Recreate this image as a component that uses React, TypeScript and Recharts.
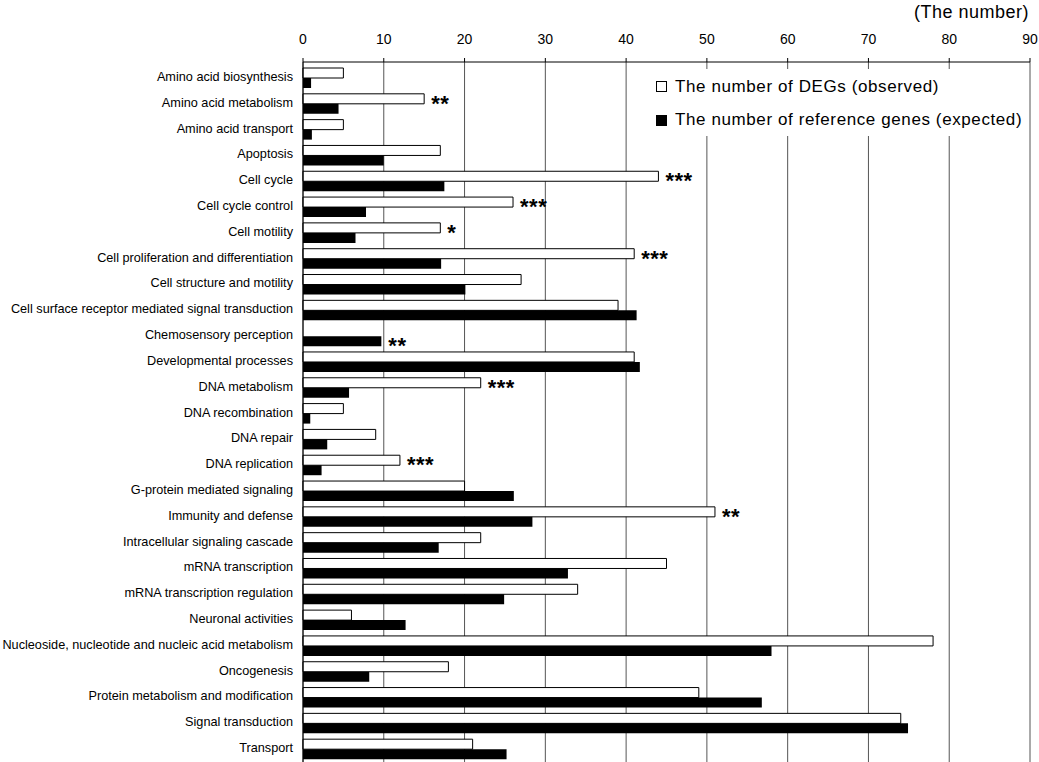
import React from 'react';
import {
  BarChart, Bar, XAxis, YAxis, CartesianGrid, LabelList,
} from 'recharts';

const categories = [
  'Amino acid biosynthesis',
  'Amino acid metabolism',
  'Amino acid transport',
  'Apoptosis',
  'Cell cycle',
  'Cell cycle control',
  'Cell motility',
  'Cell proliferation and differentiation',
  'Cell structure and motility',
  'Cell surface receptor mediated signal transduction',
  'Chemosensory perception',
  'Developmental processes',
  'DNA metabolism',
  'DNA recombination',
  'DNA repair',
  'DNA replication',
  'G-protein mediated signaling',
  'Immunity and defense',
  'Intracellular signaling cascade',
  'mRNA transcription',
  'mRNA transcription regulation',
  'Neuronal activities',
  'Nucleoside, nucleotide and nucleic acid metabolism',
  'Oncogenesis',
  'Protein metabolism and modification',
  'Signal transduction',
  'Transport',
];

// observed DEGs
const observed = [5, 15, 5, 17, 44, 26, 17, 41, 27, 39, 0, 41, 22, 5, 9, 12, 20, 51, 22, 45, 34, 6, 78, 18, 49, 74, 21];
// expected reference genes
const expected = [1.0, 4.4, 1.1, 10.0, 17.5, 7.8, 6.5, 17.1, 20.1, 41.3, 9.7, 41.7, 5.7, 0.9, 3.0, 2.3, 26.1, 28.4, 16.8, 32.8, 24.9, 12.7, 58, 8.2, 56.8, 74.9, 25.2];
const significance = ['', '**', '', '', '***', '***', '*', '***', '', '', '**', '', '***', '', '', '***', '', '**', '', '', '', '', '', '', '', '', ''];

const xTicks = [0, 10, 20, 30, 40, 50, 60, 70, 80, 90];
const legendLabels = ['The number of DEGs (observed)', 'The number of reference genes (expected)'];
const unitLabel = '(The number)';

const data = categories.map((name, i) => ({
  name,
  observed: observed[i],
  expected: expected[i],
  // stars go next to whichever bar is longer
  sigObs: observed[i] >= expected[i] ? significance[i] : '',
  sigExp: observed[i] < expected[i] ? significance[i] : '',
}));

const FONT = '"Liberation Sans", Arial, Helvetica, sans-serif';

// eslint-disable-next-line @typescript-eslint/no-explicit-any
function Stars(props: any) {
  const { value } = props;
  if (!value) return null;
  const vb = props.viewBox ?? props;
  const x = vb.x + vb.width + 7;
  const cy = vb.y + vb.height / 2;
  return (
    <text x={x} y={cy + 12} fontSize={22} fontWeight="bold" fontFamily={FONT} letterSpacing={0.5} fill="#000">
      {value}
    </text>
  );
}

// single-line category label (the default tick wraps long names)
// eslint-disable-next-line @typescript-eslint/no-explicit-any
function CategoryTick({ x, y, payload }: any) {
  return (
    <text x={x} y={y} dy={3} textAnchor="end" fontSize={12.7} fontFamily={FONT} fill="#000">
      {payload.value}
    </text>
  );
}

export default function App() {
  return (
    <div style={{ position: 'absolute', left: 0, top: 0, width: 1039, height: 762, background: '#fff', fontFamily: FONT }}>
      <BarChart
        width={1039}
        height={762}
        data={data}
        layout="vertical"
        margin={{ top: 32, right: 9, left: 0, bottom: 0 }}
        barGap={0}
        barCategoryGap={3}
      >
        <CartesianGrid horizontal={false} vertical stroke="#555" strokeWidth={1} />
        <XAxis
          type="number"
          orientation="top"
          domain={[0, 90]}
          ticks={xTicks}
          interval={0}
          height={30}
          tick={{ fill: '#000', fontSize: 14, fontFamily: FONT }}
          tickSize={4}
          tickMargin={14}
          axisLine={{ stroke: '#000' }}
          tickLine={{ stroke: '#000' }}
        />
        <YAxis
          type="category"
          dataKey="name"
          width={303}
          interval={0}
          padding={{ top: 3, bottom: 0 }}
          tick={<CategoryTick />}
          tickLine={false}
          tickMargin={4}
          axisLine={{ stroke: '#000' }}
        />
        <Bar dataKey="observed" fill="#fff" stroke="#000" strokeWidth={1} isAnimationActive={false}>
          <LabelList dataKey="sigObs" content={<Stars />} />
        </Bar>
        <Bar dataKey="expected" fill="#000" isAnimationActive={false}>
          <LabelList dataKey="sigExp" content={<Stars />} />
        </Bar>
      </BarChart>

      <div style={{ position: 'absolute', left: 914, top: 2, fontSize: 18, letterSpacing: 0.5, color: '#000', whiteSpace: 'nowrap' }}>
        {unitLabel}
      </div>

      <div style={{ position: 'absolute', left: 640, top: 69, width: 384, height: 67, background: '#fff' }}>
        {legendLabels.map((label, i) => (
          <div
            key={label}
            style={{ position: 'absolute', left: 16, top: 7 + i * 33.5, height: 21, display: 'flex', alignItems: 'center', whiteSpace: 'nowrap' }}
          >
            <span
              style={{
                display: 'inline-block', width: 11, height: 11, boxSizing: 'border-box',
                border: '1px solid #000', background: i === 0 ? '#fff' : '#000', marginRight: 8,
              }}
            />
            <span style={{ fontSize: 17, letterSpacing: 0.6, color: '#000' }}>{label}</span>
          </div>
        ))}
      </div>
    </div>
  );
}
